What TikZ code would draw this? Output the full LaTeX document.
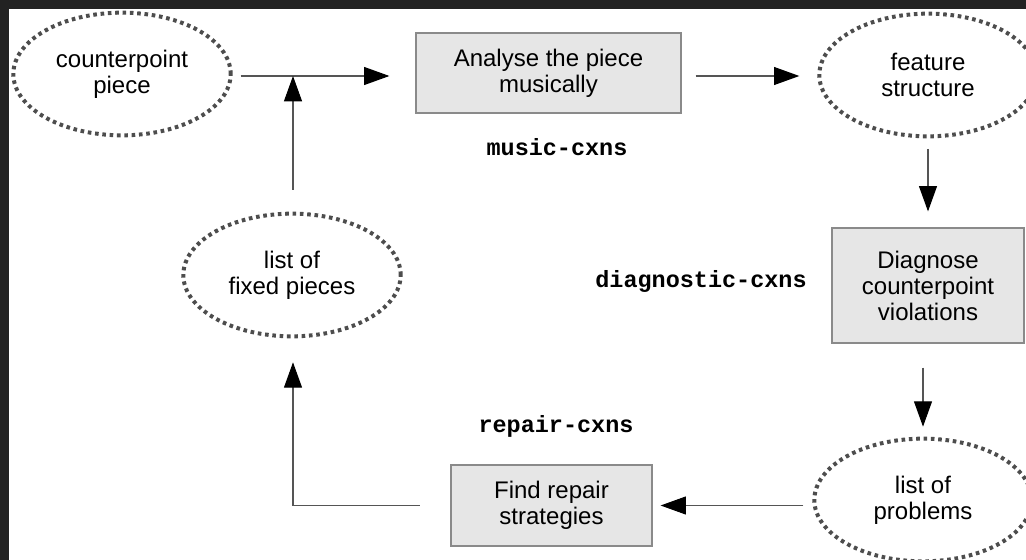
\documentclass[tikz,border=0pt]{standalone}
\usepackage{fontspec}
\setmainfont{Liberation Sans}
\setmonofont{Liberation Mono}
\usetikzlibrary{shapes.geometric,arrows.meta}
\definecolor{framecol}{HTML}{222222}
\definecolor{boxfill}{HTML}{E6E6E6}
\definecolor{boxline}{HTML}{8A8A8A}
\definecolor{dotcol}{HTML}{4D4D4D}
\definecolor{linecol}{HTML}{555555}
\tikzset{
  procbox/.style={rectangle, fill=boxfill, draw=boxline, line width=0.9pt, align=center, inner sep=0pt,
    font=\fontsize{18}{19.5}\selectfont},
  dataell/.style={ellipse, draw=dotcol, line width=3pt, dash pattern=on 2.7pt off 2.8pt, align=center,
    inner sep=0pt, minimum width=163pt, minimum height=92pt, font=\fontsize{18}{19.5}\selectfont},
  cxnlabel/.style={font=\fontsize{17.6}{20}\selectfont\ttfamily\bfseries, inner sep=0pt},
  bigtip/.style={-{Triangle[length=19pt,width=13.5pt,fill=black,color=black]}},
  conn/.style={draw=linecol, line width=0.8pt, bigtip},
  plainconn/.style={draw=linecol, line width=0.8pt}
}
\begin{document}
\begin{tikzpicture}[x=0.75pt,y=-0.75pt]
\useasboundingbox (0,0) rectangle (1026,560);
\clip (0,0) rectangle (1026,560);
\fill[framecol] (0,0) rectangle (1026,560);
\fill[white] (9,9) rectangle (1030,565);

\node[dataell] (cp) at (122,74) {counterpoint\\piece};
\node[procbox, minimum width=198.75pt, minimum height=60pt] (ana) at (548.5,73) {Analyse the piece\\musically};
\node[dataell] (fs) at (928,75) {feature\\structure};
\node[procbox, minimum width=144pt, minimum height=86.25pt] (diag) at (928,285.5) {Diagnose\\counterpoint\\violations};
\node[dataell] (prob) at (923,500) {list of\\problems};
\node[procbox, minimum width=150.75pt, minimum height=60.75pt] (rep) at (551.5,505.5) {Find repair\\strategies};
\node[dataell] (fixed) at (292,275) {list of\\fixed pieces};

\node[cxnlabel] (lmusic) at (557,147) {music-cxns};
\node[cxnlabel] (ldiag) at (701,281) {diagnostic-cxns};
\node[cxnlabel] (lrep) at (556,426) {repair-cxns};

\coordinate (join) at (293,76);

\draw[conn, shorten <=6pt, shorten >=19.5pt] (cp.east |- join) -- (join -| ana.west);
\draw[conn, shorten <=16.5pt] (fixed.north -| join) -- (join);
\draw[conn, shorten <=10.5pt, shorten >=13.5pt] (ana.east |- join) -- (join -| fs.west);
\draw[conn, shorten <=8pt, shorten >=12pt] (fs.south) -- (diag.north);
\draw[conn, shorten <=18pt, shorten >=7.5pt] (diag.south -| prob.north) -- (prob.north);
\draw[conn, shorten <=6.75pt, shorten >=6pt] (prob.west |- rep.east) -- (rep.east);
\draw[conn, shorten <=23pt, shorten >=18pt] (rep.west) -| (fixed.south -| join);
\end{tikzpicture}
\end{document}
